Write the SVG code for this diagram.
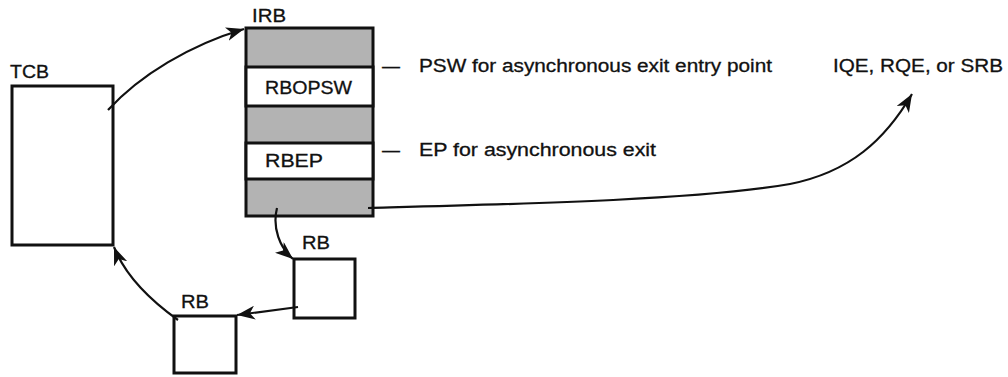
<svg xmlns="http://www.w3.org/2000/svg" width="1008" height="377" viewBox="0 0 1008 377">
<style>
.box{fill:#fff;stroke:#111;stroke-width:3}
.sh{fill:#b3b3b3;stroke:#111;stroke-width:3}
.t{font-family:"Liberation Sans",Arial,sans-serif;font-size:18px;fill:#111;stroke:#111;stroke-width:0.3}
.c{fill:none;stroke:#111;stroke-width:2.2}
</style>
<defs>
<marker id="ah" markerUnits="userSpaceOnUse" markerWidth="20" markerHeight="14" refX="18" refY="7" orient="auto">
<path d="M0,0 L18,7 L0,14 L5,7 Z" fill="#111"/>
</marker>
</defs>
<g id="TCB">
<rect class="box" x="12" y="86" width="101" height="159"/>
<text class="t" x="10" y="78" textLength="39" lengthAdjust="spacingAndGlyphs">TCB</text>
</g>
<g id="IRB">
<rect class="sh" x="246" y="28" width="127" height="188"/>
<rect class="box" x="246" y="67" width="127" height="39"/>
<rect class="box" x="246" y="143" width="127" height="36"/>
<text class="t" x="252" y="22" textLength="34" lengthAdjust="spacingAndGlyphs">IRB</text>
<text class="t" x="265" y="94" textLength="87" lengthAdjust="spacingAndGlyphs">RBOPSW</text>
<text class="t" x="265" y="167" textLength="58" lengthAdjust="spacingAndGlyphs">RBEP</text>
</g>
<g id="RB1">
<rect class="box" x="294" y="259" width="61" height="59"/>
<text class="t" x="302" y="249" textLength="28" lengthAdjust="spacingAndGlyphs">RB</text>
</g>
<g id="RB2">
<rect class="box" x="174" y="316" width="62" height="57"/>
<text class="t" x="181" y="308" textLength="28" lengthAdjust="spacingAndGlyphs">RB</text>
</g>
<g id="notes">
<text class="t" x="382" y="72">—</text>
<text class="t" x="419" y="72" textLength="353" lengthAdjust="spacingAndGlyphs">PSW for asynchronous exit entry point</text>
<text class="t" x="382" y="156">—</text>
<text class="t" x="419" y="156" textLength="237" lengthAdjust="spacingAndGlyphs">EP for asynchronous exit</text>
</g>
<g id="target">
<text class="t" x="833" y="72" textLength="170" lengthAdjust="spacingAndGlyphs">IQE, RQE, or SRB</text>
</g>
<g id="connectors">
<path class="c" d="M108,110 C140,75 190,45 244,29" marker-end="url(#ah)"/>
<path class="c" d="M277,208 C272,228 280,248 293,259" marker-end="url(#ah)"/>
<path class="c" d="M298,307 L237,315" marker-end="url(#ah)"/>
<path class="c" d="M178,320 C150,300 125,275 114,247" marker-end="url(#ah)"/>
<path class="c" d="M368,208 C520,204 700,200 790,184 C850,172 885,140 912,94" marker-end="url(#ah)"/>
</g>
</svg>
